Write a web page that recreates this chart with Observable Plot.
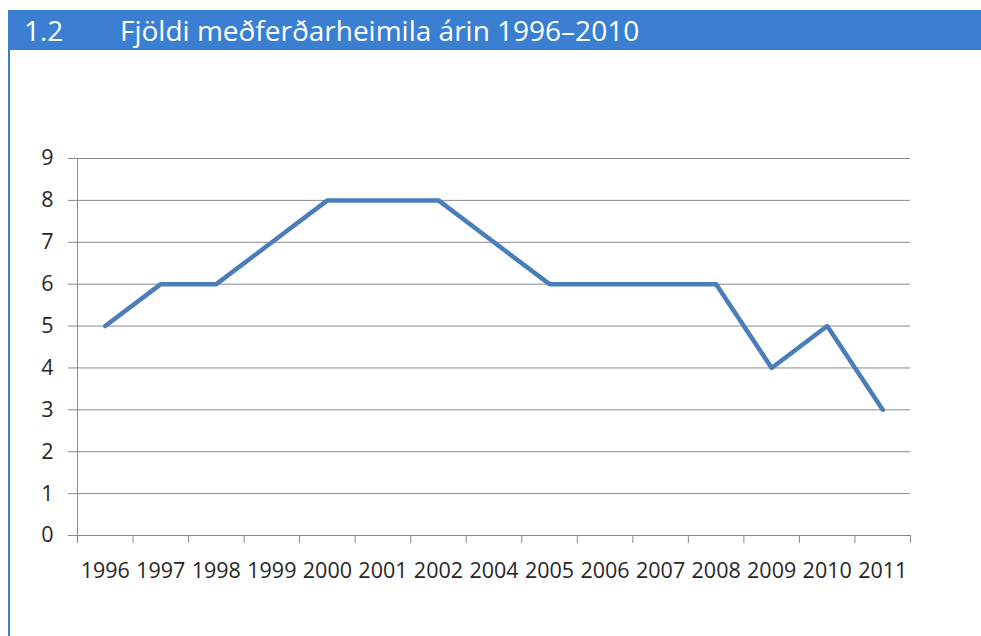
<!DOCTYPE html>
<html>
<head>
<meta charset="utf-8">
<script src="https://cdn.jsdelivr.net/npm/d3@7"></script>
<script src="https://cdn.jsdelivr.net/npm/@observablehq/plot@0.6"></script>
<style>
  html, body { margin: 0; padding: 0; background: #fff; width: 981px; height: 636px; overflow: hidden; }
  #header { position: absolute; left: 8px; top: 10px; width: 973px; height: 40px; background: #3A7FD1; color: #fff;
    font-family: "Open Sans", sans-serif; font-size: 28px; line-height: 40px; z-index: 2; }
  #header .num { position: absolute; left: 16px; }
  #header .ttl { position: absolute; left: 112px; }
  #leftbar { position: absolute; left: 8px; top: 50px; width: 2px; height: 586px; background: #3A7FD1; z-index: 2; }
  #chart { position: absolute; left: 0; top: 50px; }
</style>
</head>
<body>
<div id="header"><span class="num">1.2</span><span class="ttl">Fjöldi meðferðarheimila árin 1996–2010</span></div>
<div id="leftbar"></div>
<div id="chart"></div>
<script>
const years = ["1996","1997","1998","1999","2000","2001","2002","2004","2005","2006","2007","2008","2009","2010","2011"];
const values = [5, 6, 6, 7, 8, 8, 8, 7, 6, 6, 6, 6, 4, 5, 3];
const yTicks = [0,1,2,3,4,5,6,7,8,9];

const data = years.map((y, i) => ({i: i + 0.5, year: y, value: values[i]}));
const gridColor = "#8A8A8A";
const textColor = "#262626";

const plot = Plot.plot({
  width: 981,
  height: 586,
  marginLeft: 77,
  marginRight: 71,
  marginTop: 108,
  marginBottom: 101,
  style: {fontFamily: "Open Sans, sans-serif", fontSize: "21.5px", color: textColor, background: "transparent"},
  x: {type: "linear", domain: [0, years.length], axis: null},
  y: {domain: [0, 9], axis: null},
  marks: [
    Plot.gridY(yTicks, {stroke: gridColor, strokeOpacity: 1, strokeWidth: 1}),
    Plot.axisY(yTicks, {tickSize: 9, tickPadding: 15, stroke: gridColor, strokeOpacity: 1, fill: textColor, fontSize: 21.5, label: null}),
    Plot.ruleX([0], {y1: 0, y2: 9, stroke: gridColor, strokeWidth: 1}),
    Plot.ruleY([0], {stroke: gridColor, strokeWidth: 1}),
    Plot.axisX(d3.range(years.length + 1), {tickSize: 8, tickFormat: () => "", stroke: gridColor, strokeOpacity: 1, label: null}),
    Plot.axisX(data.map(d => d.i), {tickSize: 0, tickPadding: 27, tickFormat: v => years[Math.floor(v)], fill: textColor, fontSize: 21.5, label: null}),
    Plot.line(data, {x: "i", y: "value", stroke: "#4A7EBB", strokeWidth: 4.5, strokeLinejoin: "round", strokeLinecap: "round"})
  ]
});
document.getElementById("chart").appendChild(plot);
</script>
</body>
</html>
